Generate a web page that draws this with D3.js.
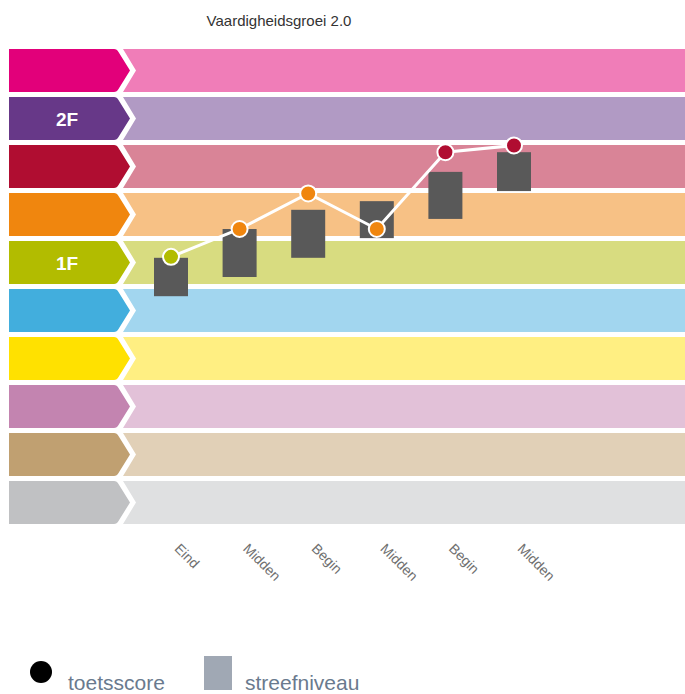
<!DOCTYPE html>
<html>
<head>
<meta charset="utf-8">
<script src="https://cdn.jsdelivr.net/npm/d3@7"></script>
<style>
  body { margin: 0; background: #fff; font-family: "Liberation Sans", Arial, sans-serif; }
</style>
</head>
<body>
<svg id="chart" width="685" height="694"></svg>
<script>
// levels from top to bottom (10 bands)
const levelLabels = ["", "2F", "", "", "1F", "", "", "", "", ""];
const darkColors = ["#E2007A", "#673888", "#B00D31", "#F0860E", "#B2BC00", "#42AEDD", "#FFE100", "#C384B0", "#C0A071", "#C0C1C3"];
const lightColors = ["#F07DB8", "#B19AC4", "#D98497", "#F7C185", "#D8DC80", "#A2D6EF", "#FFEF82", "#E2C1D8", "#E1D0B7", "#DFE0E1"];

// moments
const moments = ["Eind", "Midden", "Begin", "Midden", "Begin", "Midden"];
// toetsscore (in band units, 0 = bottom of lowest band)
const scores = [5.67, 6.25, 6.99, 6.25, 7.85, 7.99];
// streefniveau range (low, high)
const targetLow = [4.85, 5.25, 5.65, 6.06, 6.46, 7.04];
const targetHigh = [5.65, 6.25, 6.65, 6.83, 7.44, 7.85];

const svg = d3.select("#chart");
const width = 685;
const nLevels = levelLabels.length;

const y = d3.scaleLinear().domain([0, nLevels]).range([529, 49]);
const x = d3.scalePoint().domain(d3.range(moments.length)).range([171, 514]);

const gap = 5;
const boxLeft = 9, boxRight = 117, tip = 13;

// title
svg.append("text")
  .attr("x", 279).attr("y", 26)
  .attr("text-anchor", "middle")
  .attr("font-size", 15)
  .attr("fill", "#333")
  .text("Vaardigheidsgroei 2.0");

// bands
const bands = svg.append("g");
levelLabels.forEach((lab, i) => {
  const lvl = nLevels - 1 - i;
  const top = y(lvl + 1);
  const bot = y(lvl) - gap;
  const mid = (top + bot) / 2;
  bands.append("path")
    .attr("d", `M${boxRight + 6},${top} L${width},${top} L${width},${bot} L${boxRight + 6},${bot} L${boxRight + 6 + tip},${mid} Z`)
    .attr("fill", lightColors[i]);
  bands.append("path")
    .attr("d", `M${boxLeft},${top} L${boxRight - 3},${top} Q${boxRight},${top} ${boxRight + 1.5},${top + 3} L${boxRight + tip},${mid} L${boxRight + 1.5},${bot - 3} Q${boxRight},${bot} ${boxRight - 3},${bot} L${boxLeft},${bot} Z`)
    .attr("fill", darkColors[i]);
  if (lab) {
    bands.append("text")
      .attr("x", 67).attr("y", mid + 7)
      .attr("text-anchor", "middle")
      .attr("font-size", 19)
      .attr("font-weight", "bold")
      .attr("fill", "#fff")
      .text(lab);
  }
});

// streefniveau boxes
const boxW = 34;
svg.append("g").selectAll("rect")
  .data(moments.map((m, i) => i))
  .join("rect")
  .attr("x", i => x(i) - boxW / 2)
  .attr("y", i => y(targetHigh[i]))
  .attr("width", boxW)
  .attr("height", i => y(targetLow[i]) - y(targetHigh[i]))
  .attr("fill", "#595959");

// score line
svg.append("path")
  .datum(scores)
  .attr("d", d3.line().x((d, i) => x(i)).y(d => y(d)))
  .attr("fill", "none")
  .attr("stroke", "#fff")
  .attr("stroke-width", 3);

const levelColor = v => darkColors[nLevels - 1 - Math.floor(v)];

svg.append("g").selectAll("circle")
  .data(scores)
  .join("circle")
  .attr("cx", (d, i) => x(i))
  .attr("cy", d => y(d))
  .attr("r", 8)
  .attr("fill", d => levelColor(d))
  .attr("stroke", "#fff")
  .attr("stroke-width", 2);

// x axis labels
const xAxis = d3.axisBottom(x).tickSize(0).tickFormat(i => moments[i]);
const ax = svg.append("g")
  .attr("transform", "translate(0,536)")
  .call(xAxis);
ax.select(".domain").remove();
ax.selectAll("text")
  .attr("transform", "rotate(45)")
  .attr("x", 11).attr("y", -2).attr("dy", "0.71em")
  .style("text-anchor", "start")
  .style("font-size", "14px")
  .style("font-family", "Liberation Sans, Arial, sans-serif")
  .attr("fill", "#707070");

// legend
const legend = svg.append("g");
legend.append("circle").attr("cx", 41).attr("cy", 672).attr("r", 11).attr("fill", "#000");
legend.append("text").attr("x", 68).attr("y", 690)
  .attr("font-size", 21).attr("fill", "#6A7A8E").text("toetsscore");
legend.append("rect").attr("x", 204).attr("y", 656).attr("width", 28).attr("height", 34).attr("fill", "#A0A8B4");
legend.append("text").attr("x", 245).attr("y", 690)
  .attr("font-size", 21).attr("fill", "#6A7A8E").text("streefniveau");
</script>
</body>
</html>
